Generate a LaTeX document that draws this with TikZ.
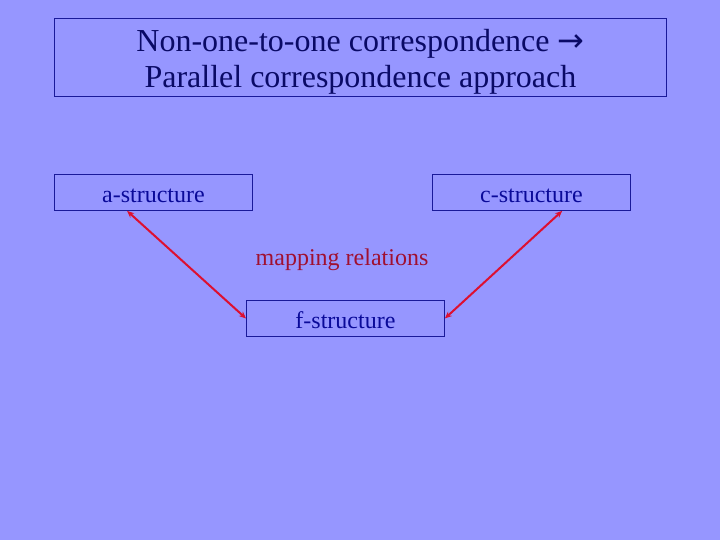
\documentclass[tikz,border=0pt]{standalone}
\usepackage{fontspec}
\setmainfont{Liberation Serif}
\newfontfamily\arrowfont{DejaVu Sans}
\usetikzlibrary{arrows.meta}
\definecolor{bg}{HTML}{9696FF}
\definecolor{boxline}{HTML}{1A1A99}
\definecolor{titletext}{HTML}{0A0A66}
\definecolor{labeltext}{HTML}{0A0A99}
\definecolor{maptext}{HTML}{A01030}
\definecolor{linkred}{HTML}{DD1030}
\tikzset{
  framebox/.style={draw=boxline, line width=0.9pt, inner sep=0pt, anchor=north west},
  structbox/.style={framebox, minimum width=198pt, minimum height=36pt, text=labeltext, font=\fontsize{24}{28}\selectfont, text height=20pt, text depth=0pt},
  link/.style={draw=linkred, line width=2pt, {Stealth[length=7pt,width=6pt]}-{Stealth[length=7pt,width=6pt]}}
}
\begin{document}
\begin{tikzpicture}[x=1pt,y=-1pt]
\fill[bg] (0,0) rectangle (720,540);
\useasboundingbox (0,0) rectangle (720,540);
\node[framebox, minimum width=612pt, minimum height=78pt] (title) at (54,18) {};
\node[text=titletext, align=center, font=\fontsize{32}{36}\selectfont, inner sep=0pt] (titletxt) at ([yshift=-4pt]title.center) {Non-one-to-one correspondence {\arrowfont\fontsize{32}{36}\selectfont →}\\Parallel correspondence approach};
\node[structbox] (a) at (54,174) {a-structure};
\node[structbox] (c) at (432,174) {c-structure};
\node[structbox] (f) at (246,300) {f-structure};
\node[text=maptext, font=\fontsize{24}{28}\selectfont] (map) at (342,260) {mapping relations};
\draw[link] (a.215) -- (f.west);
\draw[link] (c.-31) -- (f.east);
\end{tikzpicture}
\end{document}
